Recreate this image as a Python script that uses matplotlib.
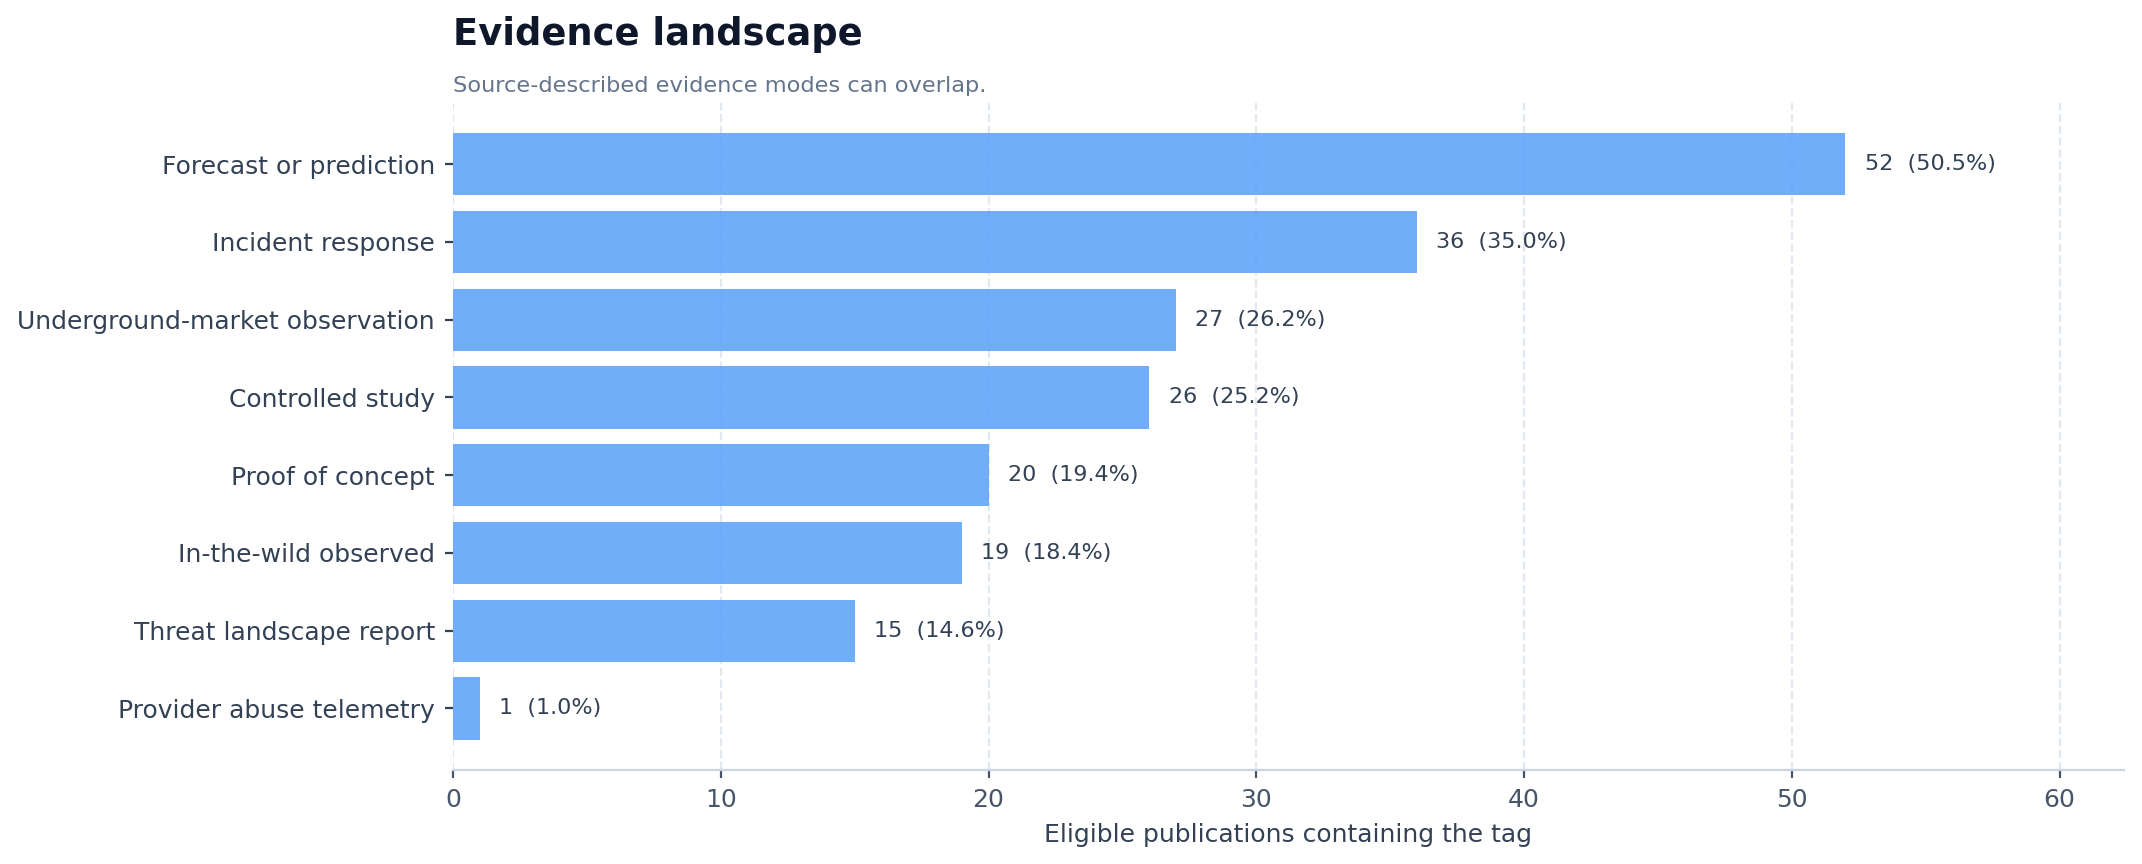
import numpy as np
import matplotlib.pyplot as plt

# Data
categories = ['Forecast or prediction', 'Incident response', 'Underground-market observation',
              'Controlled study', 'Proof of concept', 'In-the-wild observed',
              'Threat landscape report', 'Provider abuse telemetry']
counts = [52, 36, 27, 26, 20, 19, 15, 1]
shares = [50.5, 35.0, 26.2, 25.2, 19.4, 18.4, 14.6, 1.0]

fig = plt.figure(figsize=(10.71, 4.32), dpi=200)
ax = fig.add_axes([0.2115, 0.109, 0.78, 0.772])

y = np.arange(len(categories))
ax.barh(y, counts, height=0.8, color='#60a5fa', alpha=0.9, zorder=2)
ax.invert_yaxis()
ax.set_yticks(y)
ax.set_yticklabels(categories)
ax.set_xlim(0, max(counts) * 1.2)

for yi, c, s in zip(y, counts, shares):
    ax.annotate(f'{c}  ({s:.1f}%)', (c, yi), xytext=(7, 0), textcoords='offset points',
                va='center', ha='left', fontsize=8, color='#334155')

ax.grid(axis='x', linestyle='--', color='#e2e8f0', linewidth=0.8, zorder=0)
ax.set_axisbelow(True)
for side in ['top', 'right', 'left']:
    ax.spines[side].set_visible(False)
ax.spines['bottom'].set_color('#cbd5e1')
ax.tick_params(axis='y', labelsize=9, colors='#334155', length=3)
ax.tick_params(axis='x', labelsize=9, colors='#475569', length=3)
ax.set_xlabel('Eligible publications containing the tag', fontsize=9, color='#334155')

fig.text(0.2115, 0.96, 'Evidence landscape', fontsize=13.3, fontweight='bold',
         color='#0f172a', ha='left', va='center')
fig.text(0.2115, 0.90, 'Source-described evidence modes can overlap.', fontsize=8.1,
         color='#64748b', ha='left', va='center')

fig.savefig('out.png', dpi=200)
